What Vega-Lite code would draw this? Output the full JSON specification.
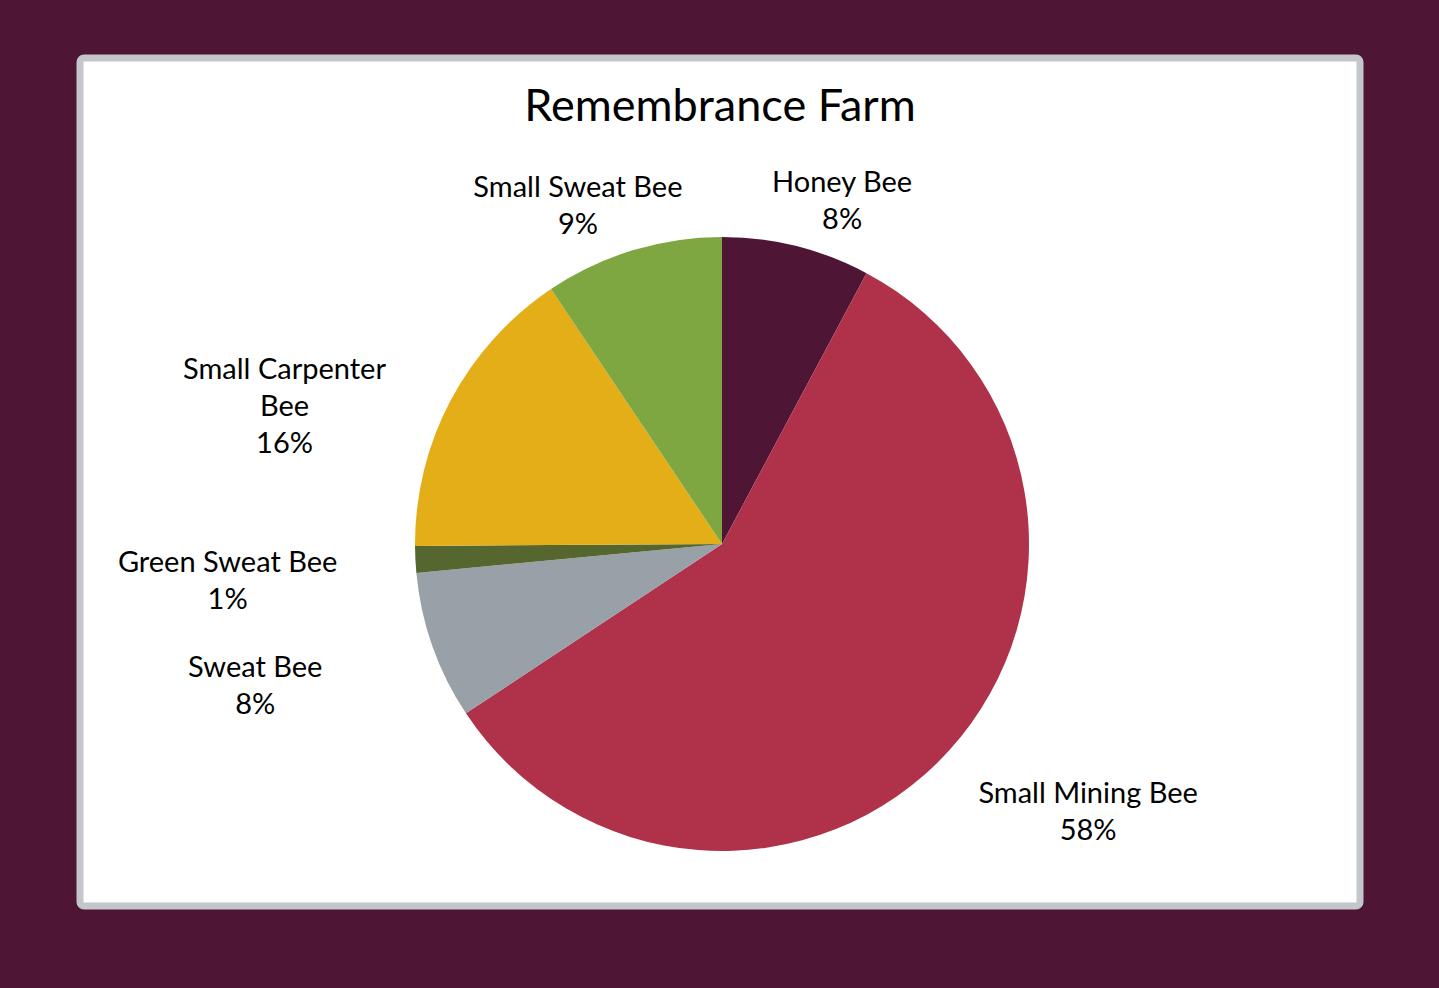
{
  "$schema": "https://vega.github.io/schema/vega-lite/v6.json",
  "autosize": {"type": "fit", "contains": "padding"},
  "width": 1439,
  "height": 988,
  "padding": {"left": 80, "top": 58, "right": 79, "bottom": 82},
  "background": "#4E1634",
  "view": {"fill": "#FFFFFF", "stroke": "#C3C6CA", "strokeWidth": 7, "cornerRadius": 4},
  "title": {
    "text": "Remembrance Farm",
    "font": "Lato",
    "fontSize": 45,
    "fontWeight": "normal",
    "color": "#000000",
    "anchor": "middle",
    "orient": "top",
    "offset": -72
  },
  "config": {
    "text": {"font": "Lato"}
  },
  "data": {
    "values": [
      {"k": 1, "bee": "Honey Bee", "value": 7.8},
      {"k": 2, "bee": "Small Mining Bee", "value": 57.9},
      {"k": 3, "bee": "Sweat Bee", "value": 7.8},
      {"k": 4, "bee": "Green Sweat Bee", "value": 1.4},
      {"k": 5, "bee": "Small Carpenter Bee", "value": 15.7},
      {"k": 6, "bee": "Small Sweat Bee", "value": 9.4}
    ]
  },
  "transform": [
    {"joinaggregate": [{"op": "sum", "field": "value", "as": "total"}]},
    {"window": [{"op": "sum", "field": "value", "as": "cum"}], "sort": [{"field": "k"}], "frame": [null, 0]},
    {"calculate": "2 * PI * (datum.cum - datum.value / 2) / datum.total", "as": "mid"},
    {"calculate": "495 * sin(datum.mid)", "as": "ex"},
    {"calculate": "372 * cos(datum.mid)", "as": "ey"},
    {"calculate": "atan2(datum.ex, datum.ey)", "as": "labelAngle"},
    {"calculate": "sqrt(datum.ex * datum.ex + datum.ey * datum.ey)", "as": "labelRadius"},
    {"calculate": "replace(datum.bee, 'Carpenter ', 'Carpenter\\n') + '\\n' + format(datum.value / datum.total, '.0%')", "as": "label"}
  ],
  "layer": [
    {
      "mark": {"type": "arc", "outerRadius": 307, "xOffset": 2, "yOffset": 62},
      "encoding": {
        "theta": {"field": "value", "type": "quantitative", "stack": true},
        "order": {"field": "k", "type": "quantitative"},
        "color": {
          "field": "bee",
          "type": "nominal",
          "legend": null,
          "scale": {
            "domain": ["Honey Bee", "Small Mining Bee", "Sweat Bee", "Green Sweat Bee", "Small Carpenter Bee", "Small Sweat Bee"],
            "range": ["#4E1634", "#B0324A", "#98A0A8", "#55672F", "#E3AE18", "#7EA641"]
          }
        }
      }
    },
    {
      "mark": {"type": "text", "xOffset": 2, "yOffset": 62, "fontSize": 29, "lineBreak": "\n", "lineHeight": 37, "color": "#000000", "align": "center", "baseline": "middle"},
      "encoding": {
        "theta": {"field": "labelAngle", "type": "quantitative", "scale": null},
        "radius": {"field": "labelRadius", "type": "quantitative", "scale": null},
        "text": {"field": "label", "type": "nominal"}
      }
    }
  ]
}
